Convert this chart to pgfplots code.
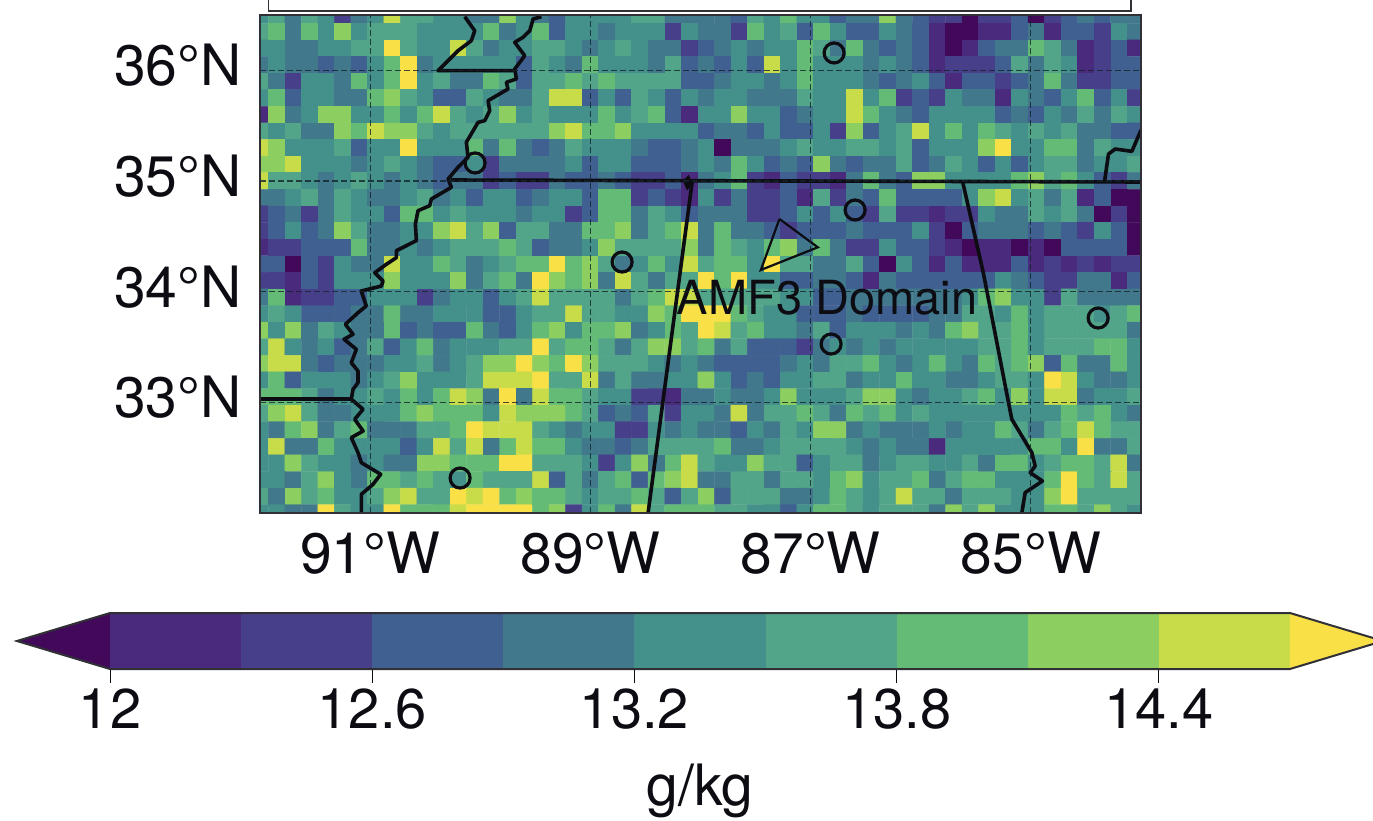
\documentclass[border=0pt]{standalone}
\usepackage{fontspec}
\setmainfont{TeX Gyre Heros}
\usepackage{pgfplots}
\pgfplotsset{compat=1.18}
\definecolor{c0}{RGB}{66,9,90}
\definecolor{c1}{RGB}{74,42,124}
\definecolor{c2}{RGB}{72,63,138}
\definecolor{c3}{RGB}{63,96,144}
\definecolor{c4}{RGB}{65,120,140}
\definecolor{c5}{RGB}{68,144,138}
\definecolor{c6}{RGB}{82,165,136}
\definecolor{c7}{RGB}{100,187,118}
\definecolor{c8}{RGB}{140,206,96}
\definecolor{c9}{RGB}{200,220,74}
\definecolor{c10}{RGB}{248,224,70}
\definecolor{ink}{RGB}{12,12,18}
\begin{document}
\begin{tikzpicture}[x=1pt,y=1pt]
\path[use as bounding box,clip] (0,0) rectangle (1373,820);
\fill[white] (0,0) rectangle (1373,820);
\draw[line width=1.8pt,ink!85] (268.5,830) rectangle (1131,809);
\begin{axis}[
  at={(260pt,307pt)},anchor=south west,
  width=881pt,height=498pt,scale only axis,
  xmin=-92,xmax=-84,ymin=32,ymax=36.5,
  xtick={-91,-89,-87,-85},xticklabels={91°W,89°W,87°W,85°W},
  ytick={33,34,35,36},yticklabels={33°N,34°N,35°N,36°N},
  major tick length=0pt,
  tick label style={font=\fontsize{57}{60}\selectfont,text=ink},
  x tick label style={yshift=-15pt},
  y tick label style={xshift=-15pt,yshift=5pt},
  grid=major,grid style={dash pattern=on 6pt off 3pt,line width=1.2pt,black!70!c4,opacity=0.8},
  axis on top,
  axis line style={line width=1.8pt,ink!85},
  colormap={vir}{rgb255=(66,9,90) rgb255=(74,42,124) rgb255=(72,63,138) rgb255=(63,96,144) rgb255=(65,120,140) rgb255=(68,144,138) rgb255=(82,165,136) rgb255=(100,187,118) rgb255=(140,206,96) rgb255=(200,220,74) rgb255=(248,224,70)},
  point meta min=11.9,point meta max=14.9,
]
\addplot[matrix plot*,mesh/cols=54,point meta=explicit] table[row sep=crcr,header=false,
  x expr={-92+0.15*mod(\coordindex,54)},
  y expr={36.5-0.15*floor((\coordindex+0.5)/54)},
  meta index=0]{
13.4\\13.7\\13.1\\13.7\\13.4\\12.5\\13.1\\13.4\\14.6\\13.7\\13.7\\13.4\\13.4\\13.1\\13.1\\14.3\\13.4\\13.1\\12.8\\13.4\\13.4\\13.4\\13.4\\13.7\\13.7\\13.1\\13.1\\13.1\\13.1\\12.8\\13.7\\13.4\\14.0\\13.4\\13.4\\12.8\\13.1\\13.1\\14.3\\13.1\\12.8\\12.5\\12.5\\11.9\\12.5\\12.5\\12.8\\11.9\\12.5\\12.8\\13.1\\12.8\\13.1\\13.1\\
13.7\\14.0\\13.1\\14.0\\13.4\\14.3\\13.4\\13.7\\13.7\\13.7\\13.4\\13.4\\13.4\\13.4\\14.0\\13.1\\13.4\\14.0\\12.8\\13.4\\13.4\\13.1\\13.4\\13.4\\13.4\\12.5\\13.4\\13.1\\13.1\\12.5\\14.0\\13.4\\13.7\\12.8\\14.0\\13.4\\12.8\\12.8\\13.4\\13.1\\12.8\\12.2\\11.9\\11.9\\12.2\\12.2\\12.8\\13.1\\12.2\\12.8\\12.8\\12.5\\13.4\\13.1\\
13.4\\13.4\\13.1\\13.1\\13.4\\13.4\\13.7\\13.7\\14.9\\13.7\\13.4\\13.4\\14.6\\13.7\\13.1\\13.4\\13.4\\13.7\\13.7\\13.4\\13.1\\13.4\\13.7\\13.4\\13.1\\13.1\\12.5\\12.8\\13.1\\13.4\\13.1\\13.4\\13.4\\14.0\\13.7\\13.1\\14.0\\13.1\\12.8\\13.1\\12.8\\12.2\\11.9\\12.2\\12.8\\13.1\\13.1\\14.0\\13.7\\13.1\\12.2\\12.5\\12.8\\12.2\\
13.1\\13.4\\13.1\\13.1\\12.8\\13.1\\12.8\\13.4\\14.0\\14.9\\13.1\\13.4\\13.4\\13.4\\13.4\\13.4\\12.8\\13.7\\13.4\\13.1\\14.0\\13.4\\13.4\\13.4\\13.1\\13.7\\12.8\\13.1\\12.8\\13.4\\12.8\\14.6\\13.4\\14.0\\13.4\\13.4\\13.4\\13.1\\13.4\\13.1\\12.8\\12.2\\12.5\\12.5\\12.5\\12.8\\13.7\\13.1\\13.7\\13.4\\12.2\\12.5\\12.8\\12.8\\
13.7\\13.1\\12.5\\13.4\\13.4\\13.1\\14.0\\13.4\\14.0\\14.9\\13.4\\13.7\\13.1\\13.1\\14.0\\13.7\\12.8\\13.7\\13.7\\14.0\\13.7\\14.0\\13.7\\13.7\\13.7\\13.7\\12.8\\12.8\\13.1\\13.4\\13.4\\13.1\\13.4\\14.0\\13.4\\13.4\\13.4\\13.1\\12.8\\13.1\\13.4\\12.8\\12.2\\12.8\\12.8\\12.5\\12.8\\13.1\\14.0\\13.1\\12.5\\12.5\\12.8\\12.8\\
13.4\\14.0\\12.8\\13.4\\13.4\\13.1\\13.1\\14.0\\14.3\\13.7\\13.4\\12.8\\12.8\\13.7\\13.4\\13.1\\13.1\\13.7\\14.6\\14.6\\12.8\\13.4\\12.8\\13.7\\13.4\\12.8\\13.4\\13.1\\13.4\\13.4\\13.1\\13.1\\13.1\\13.7\\13.4\\13.4\\14.6\\13.4\\14.0\\12.5\\12.8\\12.5\\13.4\\13.1\\13.1\\12.2\\13.4\\13.1\\12.8\\13.4\\14.0\\12.8\\13.4\\12.5\\
12.2\\14.3\\13.1\\13.4\\14.3\\14.3\\13.4\\13.4\\14.0\\13.4\\14.0\\14.6\\13.7\\13.4\\13.7\\14.3\\13.4\\13.7\\13.4\\13.4\\13.4\\14.0\\13.4\\13.7\\14.0\\12.8\\12.2\\13.4\\13.4\\14.3\\13.4\\13.4\\12.8\\13.1\\13.4\\13.4\\14.6\\14.0\\13.4\\13.1\\12.8\\13.4\\13.4\\13.4\\13.4\\12.8\\13.1\\12.8\\13.4\\13.1\\13.7\\13.1\\13.7\\13.4\\
13.7\\13.4\\13.7\\13.1\\13.1\\14.3\\14.0\\14.6\\14.3\\14.3\\13.7\\13.4\\13.7\\13.7\\13.7\\13.7\\13.7\\13.7\\14.3\\14.6\\14.0\\14.0\\14.3\\13.4\\13.4\\13.4\\13.4\\12.8\\13.1\\13.1\\12.8\\13.4\\12.8\\12.8\\13.4\\12.5\\14.3\\12.8\\13.4\\13.7\\14.6\\13.4\\14.0\\13.4\\14.0\\13.7\\13.4\\13.7\\13.4\\13.7\\13.1\\13.1\\12.8\\12.8\\
14.6\\14.3\\13.4\\13.4\\13.4\\13.7\\12.8\\13.4\\13.4\\14.9\\13.4\\13.4\\13.4\\14.0\\13.1\\14.0\\13.1\\12.8\\13.1\\13.7\\13.4\\13.4\\13.4\\13.1\\12.8\\12.8\\13.1\\13.4\\11.9\\13.1\\13.1\\13.1\\13.4\\13.7\\13.4\\13.4\\13.7\\13.7\\13.4\\13.7\\12.8\\13.4\\13.4\\13.4\\14.3\\14.9\\13.4\\13.4\\14.0\\14.0\\13.1\\13.7\\13.4\\13.4\\
14.3\\14.3\\14.6\\13.4\\13.4\\13.4\\13.1\\13.4\\13.7\\13.4\\13.1\\12.8\\12.8\\13.4\\12.5\\13.1\\13.1\\13.1\\13.1\\13.4\\12.8\\13.4\\13.4\\12.8\\12.8\\12.8\\13.1\\13.4\\13.1\\14.0\\13.4\\12.8\\13.1\\12.8\\14.3\\13.1\\12.8\\13.1\\13.1\\13.7\\12.8\\13.1\\13.7\\13.4\\12.8\\13.4\\12.8\\13.4\\13.7\\13.7\\13.1\\13.4\\13.4\\13.7\\
14.6\\13.7\\13.7\\13.4\\13.1\\13.4\\13.7\\13.4\\13.1\\13.4\\13.1\\12.8\\13.1\\13.1\\12.5\\12.8\\12.5\\12.5\\13.1\\12.8\\12.8\\13.1\\12.8\\12.5\\12.5\\12.8\\12.2\\13.1\\13.4\\14.0\\12.5\\12.2\\12.8\\12.5\\12.5\\12.2\\13.1\\14.0\\13.1\\12.8\\14.3\\14.3\\13.4\\13.4\\13.4\\13.4\\14.0\\14.3\\13.7\\14.0\\13.4\\12.8\\12.5\\13.1\\
13.1\\13.1\\13.4\\13.7\\13.1\\13.7\\13.4\\13.1\\13.1\\13.4\\13.7\\13.1\\13.4\\12.8\\13.4\\13.4\\12.8\\13.1\\13.4\\13.4\\12.8\\14.0\\14.0\\12.5\\12.8\\12.5\\12.2\\13.4\\12.5\\13.1\\12.5\\12.5\\12.8\\12.2\\13.7\\12.5\\13.1\\12.8\\14.0\\12.8\\12.8\\12.8\\12.8\\13.4\\14.3\\14.6\\13.4\\13.7\\13.1\\13.7\\12.2\\12.8\\11.9\\11.9\\
12.5\\12.8\\13.1\\12.5\\13.1\\13.7\\13.4\\13.4\\12.8\\14.0\\14.0\\13.4\\13.7\\13.4\\13.4\\13.4\\13.1\\13.4\\13.4\\12.5\\12.8\\14.0\\14.0\\13.1\\13.7\\13.4\\12.8\\13.1\\13.1\\13.1\\12.5\\12.5\\12.8\\13.4\\12.8\\13.4\\12.8\\12.5\\13.7\\12.5\\12.5\\12.2\\12.5\\12.5\\13.4\\13.1\\13.1\\13.7\\13.4\\13.7\\13.1\\11.9\\12.5\\11.9\\
12.5\\12.8\\13.4\\12.8\\13.1\\14.3\\13.7\\13.1\\13.1\\13.4\\13.4\\14.3\\14.6\\13.7\\14.3\\12.8\\13.7\\13.7\\13.1\\13.1\\14.0\\14.0\\14.3\\13.1\\13.7\\14.0\\14.6\\13.1\\14.0\\13.1\\13.1\\12.8\\12.5\\12.8\\12.8\\12.8\\13.1\\12.8\\12.8\\12.8\\13.4\\12.5\\11.9\\12.8\\13.1\\13.1\\13.1\\12.8\\13.1\\12.8\\12.5\\13.4\\12.8\\11.9\\
12.2\\12.5\\12.5\\12.8\\12.8\\12.8\\14.0\\13.1\\13.1\\13.4\\13.1\\13.4\\13.7\\13.7\\13.7\\14.0\\13.7\\12.8\\13.1\\13.1\\13.4\\14.3\\13.7\\13.7\\13.7\\13.7\\14.3\\13.1\\14.0\\13.7\\13.4\\14.0\\14.3\\13.1\\14.0\\13.1\\12.5\\12.5\\13.4\\12.8\\12.8\\12.5\\12.2\\11.9\\12.2\\12.2\\11.9\\12.2\\11.9\\12.8\\12.8\\12.8\\12.8\\11.9\\
12.8\\12.8\\11.9\\12.8\\12.5\\13.4\\13.1\\13.1\\14.6\\13.4\\13.4\\14.0\\13.7\\13.1\\13.4\\13.7\\14.0\\14.0\\14.9\\14.0\\14.3\\13.7\\13.1\\13.4\\14.0\\13.4\\14.6\\13.7\\14.0\\14.0\\13.4\\14.9\\13.7\\13.7\\13.1\\13.1\\13.7\\12.8\\11.9\\13.4\\12.8\\12.2\\12.8\\12.2\\12.2\\12.2\\12.8\\12.2\\12.5\\12.2\\12.5\\12.2\\12.5\\12.5\\
12.5\\12.5\\12.2\\12.8\\12.5\\13.4\\13.4\\13.4\\14.3\\13.4\\13.4\\13.4\\14.3\\13.1\\13.7\\14.0\\13.1\\14.9\\14.3\\14.0\\14.3\\13.1\\14.6\\13.7\\13.1\\13.7\\13.7\\14.9\\14.0\\14.9\\13.4\\13.4\\12.8\\12.8\\13.1\\13.1\\12.8\\12.2\\13.1\\12.8\\12.8\\12.8\\12.8\\12.8\\12.8\\13.4\\13.1\\12.8\\12.5\\12.5\\13.1\\13.1\\12.2\\12.8\\
13.1\\14.0\\12.2\\12.5\\12.5\\12.8\\12.8\\13.4\\13.4\\13.4\\12.5\\13.1\\13.4\\13.4\\12.8\\13.4\\13.7\\14.6\\13.7\\13.7\\13.7\\13.7\\13.1\\13.7\\14.0\\14.6\\14.6\\13.7\\13.7\\13.7\\13.7\\13.7\\13.4\\13.4\\12.8\\12.8\\13.1\\13.1\\13.1\\13.1\\13.1\\13.1\\13.1\\13.4\\14.0\\14.3\\13.4\\13.4\\12.5\\13.7\\13.1\\13.1\\13.1\\13.1\\
13.4\\13.7\\13.4\\12.8\\12.8\\12.8\\13.1\\13.1\\14.0\\13.1\\13.1\\13.4\\13.4\\13.4\\12.8\\12.8\\13.4\\13.7\\13.7\\14.6\\13.7\\13.7\\13.4\\13.4\\14.3\\14.0\\14.9\\14.9\\14.9\\14.0\\13.7\\13.4\\13.4\\12.8\\12.8\\12.8\\13.1\\12.8\\12.8\\12.8\\12.8\\13.1\\13.1\\13.7\\13.7\\13.4\\14.0\\13.4\\13.7\\13.7\\13.7\\13.4\\13.7\\14.0\\
14.3\\13.4\\14.3\\13.1\\13.7\\13.4\\13.1\\13.1\\14.0\\12.8\\13.1\\12.8\\12.8\\14.0\\13.1\\12.8\\13.4\\14.0\\14.3\\13.4\\14.0\\14.0\\14.3\\13.1\\13.4\\14.0\\13.7\\14.9\\14.6\\13.7\\14.0\\13.4\\13.4\\13.1\\13.7\\12.8\\13.4\\13.4\\13.4\\13.1\\13.4\\13.1\\14.0\\14.3\\13.7\\13.7\\14.0\\13.4\\13.7\\13.7\\13.7\\13.7\\13.7\\13.1\\
13.7\\14.6\\13.4\\13.1\\13.4\\12.8\\13.1\\13.7\\12.8\\13.4\\14.0\\13.1\\13.4\\13.4\\13.4\\13.7\\13.7\\14.9\\13.7\\14.0\\14.0\\13.7\\13.1\\13.7\\14.3\\14.3\\13.7\\14.0\\13.1\\13.7\\12.8\\12.8\\12.8\\12.5\\13.1\\13.4\\13.1\\13.4\\13.1\\13.4\\13.4\\13.4\\13.4\\13.4\\13.7\\13.7\\14.0\\13.4\\13.7\\13.7\\13.7\\14.0\\14.0\\13.4\\
14.3\\14.6\\14.6\\13.1\\12.8\\13.1\\13.1\\13.1\\13.4\\13.4\\13.7\\13.1\\13.4\\13.7\\14.3\\14.3\\14.9\\14.3\\14.0\\14.9\\14.3\\13.7\\13.7\\13.7\\13.4\\13.1\\13.4\\13.1\\12.8\\12.8\\12.8\\12.8\\13.1\\13.4\\13.1\\13.7\\13.7\\14.0\\13.4\\13.1\\13.4\\14.0\\13.4\\13.1\\14.0\\13.7\\14.0\\14.3\\12.8\\14.0\\13.1\\13.1\\14.0\\13.4\\
13.4\\14.0\\12.8\\13.4\\13.4\\13.4\\13.1\\13.4\\13.7\\14.3\\13.4\\13.4\\13.4\\13.7\\14.6\\14.6\\14.6\\14.9\\13.7\\13.7\\14.6\\13.1\\13.7\\13.1\\13.1\\13.4\\13.4\\14.3\\13.4\\12.8\\13.1\\12.8\\13.4\\13.4\\13.7\\13.7\\13.1\\13.4\\13.4\\14.0\\13.4\\13.4\\13.1\\13.1\\13.4\\13.7\\13.7\\13.4\\14.9\\14.6\\13.4\\13.1\\13.1\\13.4\\
14.0\\14.0\\14.0\\13.7\\13.1\\13.4\\13.4\\13.7\\13.4\\14.0\\13.4\\14.0\\14.6\\14.3\\13.1\\14.9\\13.1\\14.6\\14.0\\14.0\\13.7\\13.4\\13.4\\12.5\\12.5\\12.2\\13.1\\13.1\\13.4\\13.1\\13.1\\13.4\\14.3\\13.4\\13.4\\13.4\\13.7\\14.3\\14.3\\13.4\\13.1\\13.4\\13.4\\13.7\\14.0\\13.4\\14.3\\13.4\\14.6\\14.6\\13.1\\13.4\\13.4\\13.7\\
13.7\\14.3\\14.6\\13.7\\13.1\\13.1\\13.4\\13.4\\13.4\\14.0\\14.3\\14.0\\14.0\\14.0\\13.4\\14.6\\14.3\\14.3\\14.3\\14.0\\13.7\\12.8\\13.1\\12.8\\13.7\\12.5\\13.4\\13.4\\13.1\\14.6\\13.1\\13.7\\13.7\\14.0\\13.7\\13.1\\14.0\\13.7\\14.0\\13.4\\13.7\\13.4\\13.4\\13.4\\13.4\\13.4\\13.4\\13.4\\13.4\\14.0\\13.7\\14.0\\13.4\\13.1\\
13.4\\13.1\\14.0\\14.3\\13.1\\13.7\\14.0\\13.1\\13.1\\13.1\\13.7\\13.7\\14.0\\14.9\\14.6\\14.6\\14.6\\13.7\\13.4\\13.1\\13.4\\13.4\\12.5\\12.5\\13.4\\13.1\\13.4\\13.1\\13.1\\12.8\\13.4\\13.1\\13.7\\13.4\\14.3\\14.3\\13.1\\13.4\\13.1\\13.1\\13.1\\13.4\\13.1\\13.4\\13.4\\14.0\\13.7\\13.1\\13.7\\14.0\\14.6\\14.0\\13.7\\13.7\\
13.4\\14.6\\13.1\\13.1\\14.0\\13.4\\13.4\\13.4\\13.4\\12.8\\13.4\\14.6\\13.7\\14.6\\13.1\\14.0\\14.6\\14.0\\14.0\\13.4\\13.1\\13.1\\12.8\\13.1\\13.7\\13.7\\13.7\\13.7\\14.0\\13.1\\13.1\\13.4\\13.7\\13.7\\13.7\\13.7\\13.4\\13.1\\13.4\\13.1\\13.1\\12.2\\13.4\\13.4\\13.4\\13.4\\13.4\\14.0\\14.0\\13.4\\14.9\\13.1\\13.1\\13.7\\
13.4\\13.4\\14.3\\13.7\\13.4\\13.4\\13.1\\13.4\\13.1\\13.1\\14.3\\14.3\\14.0\\14.0\\14.0\\14.9\\14.9\\13.7\\13.7\\13.7\\13.4\\12.5\\13.4\\14.3\\13.1\\14.0\\14.6\\13.7\\13.4\\13.4\\14.3\\13.7\\13.7\\12.8\\13.4\\13.7\\13.7\\13.1\\13.4\\13.7\\13.7\\13.4\\13.4\\13.7\\13.1\\14.0\\14.0\\13.4\\13.7\\14.0\\14.0\\13.7\\14.6\\13.1\\
13.4\\13.4\\13.1\\13.7\\14.3\\13.4\\13.1\\14.0\\14.0\\13.7\\14.0\\13.7\\13.4\\14.0\\13.7\\13.7\\13.7\\14.6\\12.8\\13.7\\13.1\\13.7\\14.0\\12.8\\14.0\\14.3\\14.6\\13.1\\13.1\\13.7\\13.7\\13.1\\13.7\\13.7\\13.4\\14.0\\14.3\\13.4\\13.7\\13.7\\14.0\\13.1\\13.7\\14.0\\14.0\\13.4\\13.4\\13.4\\14.0\\14.9\\14.0\\13.7\\14.6\\13.7\\
13.7\\13.1\\14.3\\13.7\\14.0\\13.4\\13.4\\13.7\\14.3\\14.6\\13.7\\13.7\\14.9\\14.6\\14.9\\14.0\\14.3\\14.0\\14.0\\13.7\\13.4\\13.7\\13.7\\14.0\\13.7\\12.8\\13.7\\14.3\\12.8\\13.7\\13.7\\13.7\\13.1\\13.1\\13.4\\14.0\\13.7\\13.4\\13.7\\14.6\\13.7\\13.7\\13.1\\13.7\\13.7\\13.7\\13.4\\13.4\\14.3\\14.9\\13.7\\13.7\\13.7\\13.7\\
13.4\\13.4\\13.1\\13.1\\14.9\\13.7\\13.4\\13.4\\14.9\\14.0\\14.0\\14.0\\14.6\\14.9\\14.9\\14.9\\14.9\\14.0\\14.3\\12.5\\13.4\\14.0\\13.1\\14.6\\13.7\\14.0\\14.0\\14.0\\13.7\\13.7\\13.4\\13.4\\12.8\\13.4\\14.0\\14.0\\13.7\\13.4\\13.7\\13.7\\13.7\\13.1\\14.3\\13.7\\14.3\\13.4\\13.4\\13.4\\14.0\\14.0\\13.7\\14.3\\13.7\\13.4\\
};
% Mississippi River
\addplot[ink,line width=3.6pt,line join=round,mark=none] coordinates {(-89.445,36.485)(-89.52,36.464)(-89.55,36.358)(-89.611,36.299)(-89.687,36.253)(-89.596,36.132)(-89.687,36.012)(-89.672,35.922)(-89.763,35.892)(-89.748,35.831)(-89.929,35.726)(-89.914,35.635)(-89.959,35.545)(-90.02,35.53)(-90.126,35.35)(-90.111,35.214)(-90.202,35.124)(-90.292,35.018)(-90.262,34.943)(-90.444,34.837)(-90.459,34.777)(-90.565,34.732)(-90.589,34.611)(-90.58,34.461)(-90.762,34.37)(-90.762,34.307)(-90.853,34.247)(-90.958,34.171)(-90.883,34.096)(-90.898,34.051)(-91.08,34.006)(-91.035,33.871)(-91.11,33.81)(-91.225,33.705)(-91.155,33.615)(-91.237,33.57)(-91.125,33.479)(-91.171,33.358)(-91.11,33.283)(-91.11,33.178)(-91.155,33.118)(-91.171,33.028)(-91.064,32.937)(-91.14,32.847)(-91.064,32.741)(-91.171,32.681)(-91.11,32.545)(-91.08,32.455)(-90.904,32.35)(-90.974,32.259)(-91.08,32.169)(-91.08,32.0)};
% Missouri bootheel
\addplot[ink,line width=3.6pt,line join=round,mark=none] coordinates {(-90.141,36.485)(-90.05,36.358)(-90.081,36.268)(-90.202,36.177)(-90.383,35.997)(-89.702,35.997)};
% Tennessee south border
\addplot[ink,line width=3.6pt,mark=none] coordinates {(-90.27,35.009)(-84,34.991)};
\addplot[ink,fill=ink,line width=2pt,mark=none] coordinates {(-88.15,35.0)(-88.12,34.93)(-88.08,34.97)(-88.11,35.04)(-88.15,35.0)};
% Mississippi / Alabama
\addplot[ink,line width=3.6pt,mark=none] coordinates {(-88.076,34.99)(-88.476,32.0)};
% Alabama / Georgia
\addplot[ink,line width=3.6pt,line join=round,mark=none] coordinates {(-85.619,34.991)(-85.433,34.175)(-85.385,33.931)(-85.203,32.997)(-85.173,32.847)(-84.991,32.545)(-84.961,32.425)(-85.006,32.364)(-84.895,32.289)(-85.052,32.184)(-85.082,32.0)};
% Georgia / North Carolina corner
\addplot[ink,line width=3.6pt,line join=round,mark=none] coordinates {(-84.332,34.99)(-84.295,35.244)(-84.234,35.289)(-84.083,35.268)(-84,35.461)};
% Arkansas / Louisiana
\addplot[ink,line width=3.6pt,mark=none] coordinates {(-92,33.028)(-91.16,33.028)};
% sites
\addplot[only marks,mark=o,mark size=10pt,mark options={draw=ink,line width=3.2pt,fill=none}] coordinates {(-90.047,35.163)(-86.787,36.157)(-86.596,34.738)(-88.712,34.268)(-84.389,33.762)(-86.814,33.527)(-90.183,32.316)};
% AMF3 domain
\addplot[ink,line width=2.2pt,mark=none] coordinates {(-87.283,34.657)(-86.935,34.401)(-87.452,34.196)(-87.283,34.657)};
\node[font=\fontsize{47}{50}\selectfont,text=ink,inner sep=0pt] at (axis cs:-86.85,33.943) {AMF3 Domain};
\end{axis}
\begin{axis}[
  at={(110pt,151pt)},anchor=south west,
  width=1180pt,height=56pt,scale only axis,
  xmin=12,xmax=14.7,ymin=0,ymax=1,clip=false,
  xtick={12,12.6,13.2,13.8,14.4},xticklabels={12,12.6,13.2,13.8,14.4},
  ytick=\empty,
  tick align=outside,xtick pos=bottom,
  major tick length=14pt,
  tick style={ink,line width=1pt},
  axis line style={draw=none},
  tick label style={font=\fontsize{56}{60}\selectfont,text=ink,yshift=-2pt},
  xlabel={g/kg},
  xlabel style={font=\fontsize{57}{60}\selectfont,text=ink,yshift=-28pt},
]
\addplot[draw=none,fill=c0] coordinates {(11.787,0.5)(12,0)(12,1)} --cycle;
\addplot[draw=none,fill=c1] coordinates {(12,0)(12.3,0)(12.3,1)(12,1)} --cycle;
\addplot[draw=none,fill=c2] coordinates {(12.3,0)(12.6,0)(12.6,1)(12.3,1)} --cycle;
\addplot[draw=none,fill=c3] coordinates {(12.6,0)(12.9,0)(12.9,1)(12.6,1)} --cycle;
\addplot[draw=none,fill=c4] coordinates {(12.9,0)(13.2,0)(13.2,1)(12.9,1)} --cycle;
\addplot[draw=none,fill=c5] coordinates {(13.2,0)(13.5,0)(13.5,1)(13.2,1)} --cycle;
\addplot[draw=none,fill=c6] coordinates {(13.5,0)(13.8,0)(13.8,1)(13.5,1)} --cycle;
\addplot[draw=none,fill=c7] coordinates {(13.8,0)(14.1,0)(14.1,1)(13.8,1)} --cycle;
\addplot[draw=none,fill=c8] coordinates {(14.1,0)(14.4,0)(14.4,1)(14.1,1)} --cycle;
\addplot[draw=none,fill=c9] coordinates {(14.4,0)(14.7,0)(14.7,1)(14.4,1)} --cycle;
\addplot[draw=none,fill=c10] coordinates {(14.7,0)(14.913,0.5)(14.7,1)} --cycle;
\addplot[ink!85,line width=2pt,mark=none] coordinates {(12,0)(14.7,0)(14.913,0.5)(14.7,1)(12,1)(11.787,0.5)(12,0)};
\end{axis}
\end{tikzpicture}
\end{document}
